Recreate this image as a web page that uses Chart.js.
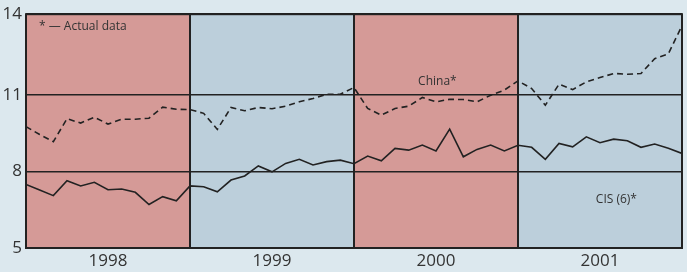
<!DOCTYPE html>
<html>
<head>
<meta charset="utf-8">
<script src="https://cdn.jsdelivr.net/npm/chart.js@4.4.1/dist/chart.umd.min.js"></script>
<style>
  html, body { margin: 0; padding: 0; background: #dce8ee; }
  #wrap { width: 687px; height: 272px; position: relative; }
</style>
</head>
<body>
<div id="wrap"><canvas id="chart"></canvas></div>
<script>
// Years shown under the bands, one band per year (12 monthly steps each)
const years = ['1998', '1999', '2000', '2001'];

// Monthly readings, Jan 1998 .. Jan 2002 (49 points)
const china = [9.75, 9.44, 9.16, 10.06, 9.89, 10.12, 9.85, 10.04, 10.04, 10.08, 10.51, 10.43, 10.42,
  10.27, 9.64, 10.5, 10.37, 10.5, 10.45, 10.55, 10.72, 10.85, 11.02, 11.02, 11.28,
  10.46, 10.2, 10.46, 10.55, 10.89, 10.72, 10.82, 10.81, 10.72, 10.98, 11.18, 11.54,
  11.24, 10.59, 11.41, 11.2, 11.5, 11.67, 11.83, 11.8, 11.83, 12.41, 12.6, 13.7];

const cis = [7.49, 7.27, 7.05, 7.63, 7.43, 7.57, 7.28, 7.31, 7.18, 6.70, 7.01, 6.85, 7.43,
  7.40, 7.20, 7.66, 7.82, 8.21, 7.98, 8.31, 8.47, 8.25, 8.38, 8.44, 8.30,
  8.60, 8.41, 8.90, 8.83, 9.03, 8.80, 9.65, 8.57, 8.86, 9.03, 8.80, 9.02,
  8.94, 8.47, 9.09, 8.96, 9.35, 9.12, 9.26, 9.20, 8.94, 9.07, 8.90, 8.70];

// Y axis tick labels
const yTicks = [5, 8, 11, 14];
const yMax = 14.15;

const bandColors = ['#d59a97', '#bccfdb'];
const ink = '#222222';
const textColor = '#333333';
const font = '"Open Sans", "Noto Sans", sans-serif';

function toPoints(arr) {
  return arr.map((v, i) => ({ x: i, y: v }));
}

// Background bands, year separators and frame
const bandsPlugin = {
  id: 'bands',
  beforeDraw(chart) {
    const ctx = chart.ctx;
    const x = chart.scales.x;
    const a = chart.chartArea;
    ctx.save();
    years.forEach((y, i) => {
      const x0 = x.getPixelForValue(i * 12);
      const x1 = x.getPixelForValue((i + 1) * 12);
      ctx.fillStyle = bandColors[i % 2];
      ctx.fillRect(x0, a.top, x1 - x0, a.bottom - a.top);
    });
    ctx.restore();
  },
  beforeDatasetsDraw(chart) {
    const ctx = chart.ctx;
    const x = chart.scales.x;
    const a = chart.chartArea;
    ctx.save();
    ctx.strokeStyle = ink;
    ctx.lineWidth = 2;
    for (let i = 1; i < years.length; i++) {
      const px = Math.round(x.getPixelForValue(i * 12));
      ctx.beginPath();
      ctx.moveTo(px, a.top);
      ctx.lineTo(px, a.bottom);
      ctx.stroke();
    }
    ctx.strokeRect(a.left, a.top, a.right - a.left, a.bottom - a.top);
    ctx.restore();
  },
  afterDraw(chart) {
    const ctx = chart.ctx;
    const x = chart.scales.x;
    const y = chart.scales.y;
    const a = chart.chartArea;
    ctx.save();
    ctx.fillStyle = textColor;
    ctx.font = '12px ' + font;
    ctx.textBaseline = 'middle';
    ctx.textAlign = 'left';
    ctx.fillText('* \u2014 Actual data', a.left + 13, a.top + 12);
    ctx.textAlign = 'center';
    ctx.fillText('China*', x.getPixelForValue(30.1), y.getPixelForValue(11.52));
    ctx.fillText('CIS (6)*', x.getPixelForValue(43.2), y.getPixelForValue(6.9));
    ctx.restore();
  }
};

new Chart(document.getElementById('chart'), {
  type: 'line',
  data: {
    datasets: [
      {
        label: 'China',
        data: toPoints(china),
        borderColor: ink,
        borderWidth: 1.6,
        borderDash: [6, 4],
        pointRadius: 0,
        tension: 0,
        fill: false
      },
      {
        label: 'CIS (6)',
        data: toPoints(cis),
        borderColor: ink,
        borderWidth: 1.6,
        pointRadius: 0,
        tension: 0,
        fill: false
      }
    ]
  },
  options: {
    responsive: true,
    maintainAspectRatio: false,
    animation: false,
    layout: { padding: { top: 13, right: 5, left: 0, bottom: 0 } },
    plugins: {
      legend: { display: false },
      tooltip: { enabled: false }
    },
    scales: {
      x: {
        type: 'linear',
        min: 0,
        max: years.length * 12,
        grid: { display: false, drawTicks: false },
        border: { display: false },
        afterBuildTicks(scale) {
          scale.ticks = years.map((y, i) => ({ value: i * 12 + 6 }));
        },
        afterFit(scale) { scale.height = 24; },
        ticks: {
          padding: 3,
          color: textColor,
          font: { family: font, size: 17 },
          maxRotation: 0,
          autoSkip: false,
          callback: (v) => years[Math.floor(v / 12)]
        }
      },
      y: {
        min: 5,
        max: yMax,
        grid: { color: ink, lineWidth: 1.6, drawTicks: false },
        border: { display: false },
        afterBuildTicks(scale) {
          // top label sits on the frame edge
          scale.ticks = yTicks.map((v, i) => ({ value: i === yTicks.length - 1 ? yMax : v }));
        },
        afterFit(scale) { scale.width = 26; },
        ticks: {
          padding: 4,
          color: textColor,
          font: { family: font, size: 17 },
          callback: (v, i) => String(yTicks[i])
        }
      }
    }
  },
  plugins: [bandsPlugin]
});
</script>
</body>
</html>
